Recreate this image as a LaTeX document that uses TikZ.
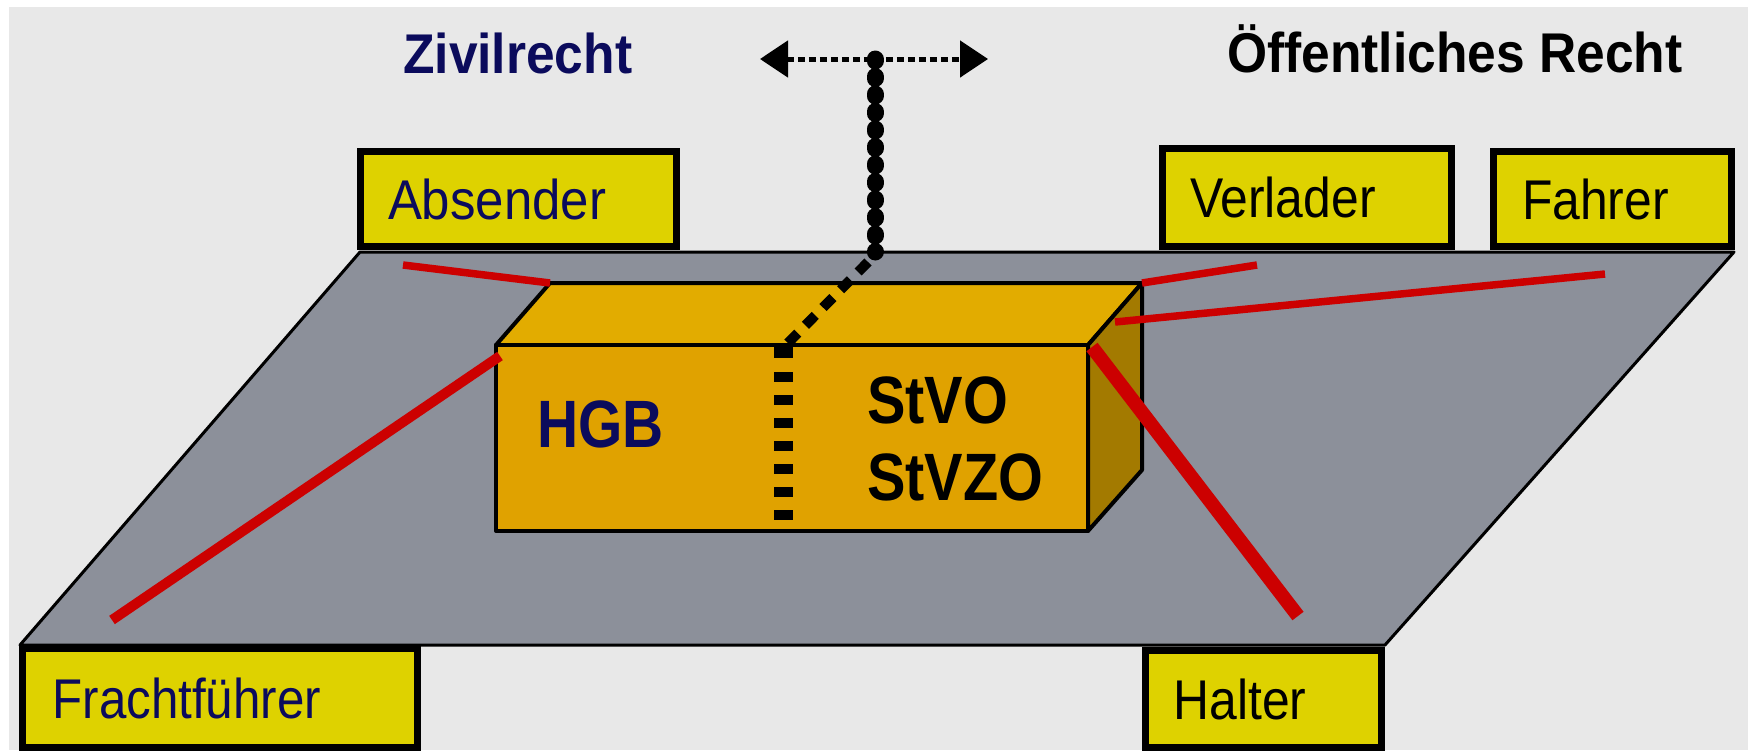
\documentclass[tikz,border=0pt]{standalone}
\usepackage{fontspec}
\setmainfont{Liberation Sans}
\usetikzlibrary{arrows.meta}
\definecolor{bggray}{HTML}{E8E8E8}
\definecolor{plategray}{HTML}{8C909A}
\definecolor{partyyellow}{HTML}{DED200}
\definecolor{navytext}{HTML}{0B0B5C}
\definecolor{linered}{HTML}{CC0000}
\definecolor{boxtop}{HTML}{E2AC00}
\definecolor{boxfront}{HTML}{E0A200}
\definecolor{boxside}{HTML}{A37A00}
\begin{document}
\begin{tikzpicture}[x=1pt,y=-1pt,
  titletxt/.style={font=\fontsize{56}{60}\selectfont\bfseries, inner sep=0pt, anchor=base west},
  lawtxt/.style={font=\fontsize{67}{72}\selectfont\bfseries, inner sep=0pt, anchor=base west},
  party/.style={draw=black, line width=7pt, fill=partyyellow, inner ysep=0pt,
    font=\fontsize{56}{60}\selectfont, align=left},
  redline/.style={draw=linered, line width=7.5pt},
  boxedge/.style={draw=black, line width=4pt, line join=round},
  sepdots/.style={line width=17pt, line cap=round, dash pattern=on 2pt off 15.5pt},
  sepslant/.style={line width=10pt, dash pattern=on 14pt off 11pt},
  sepfront/.style={line width=19pt, dash pattern=on 10pt off 13pt},
]
\useasboundingbox (0,0) rectangle (1748,750);
\clip (0,0) rectangle (1748,750);
\fill[white] (0,0) rectangle (1748,750);
\fill[bggray] (9,7) rectangle (1748,750);

% titles
\node[titletxt, text=navytext] (zivil) at (403,73) {\scalebox{0.92}[1]{Zivilrecht}};
\node[titletxt, text=black] (oeff) at (1227,72) {\scalebox{0.92}[1]{Öffentliches Recht}};

% plate
\filldraw[fill=plategray, draw=black, line width=3pt, line join=round]
  (360,252) -- (1734,252) -- (1385,645) -- (20,645) -- cycle;

% party boxes
\node[party, minimum width=316pt, minimum height=95pt, text width=261pt, inner xsep=27.5pt, text=navytext]
  (absender) at (518.5,199) {\scalebox{0.91}[1]{Absender}};
\node[party, minimum width=289pt, minimum height=98pt, text width=234pt, inner xsep=27.5pt, text=black]
  (verlader) at (1307,197.5) {\scalebox{0.89}[1]{Verlader}};
\node[party, minimum width=238pt, minimum height=95pt, text width=181pt, inner xsep=28.5pt, text=black]
  (fahrer) at (1612.5,199) {\scalebox{0.89}[1]{Fahrer}};
\node[party, minimum width=395pt, minimum height=99pt, text width=334pt, inner xsep=30.5pt, text=navytext]
  (fracht) at (219.5,698) {\scalebox{0.88}[1]{Frachtführer}};
\node[party, minimum width=236pt, minimum height=97pt, text width=180pt, inner xsep=28pt, text=black]
  (halter) at (1263.5,699) {\scalebox{0.89}[1]{Halter}};

% cuboid corners
\coordinate (ftl) at (496,345);
\coordinate (ftr) at (1088,345);
\coordinate (fbl) at (496,531);
\coordinate (fbr) at (1088,531);
\coordinate (btl) at (550,283);
\coordinate (btr) at (1142,283);
\coordinate (bbr) at (1142,470);
\filldraw[fill=boxtop, boxedge] (ftl) -- (btl) -- (btr) -- (ftr) -- cycle;
\filldraw[fill=boxside, boxedge] (ftr) -- (btr) -- (bbr) -- (fbr) -- cycle;
\filldraw[fill=boxfront, boxedge] (ftl) -- (ftr) -- (fbr) -- (fbl) -- cycle;

% texts on the cuboid
\node[lawtxt, text=navytext] (hgb) at (537,447) {\scalebox{0.85}[1]{HGB}};
\node[lawtxt, text=black] (stvo) at (867,423) {\scalebox{0.86}[1]{StVO}};
\node[lawtxt, text=black] (stvzo) at (867,500) {\scalebox{0.86}[1]{StVZO}};

% separator between civil and public law
\coordinate (arrL) at (760,59);
\coordinate (arrR) at (988,59);
\coordinate (sepTop) at (875,59);
\coordinate (sepPlate) at (875,252);
\coordinate (slantA) at (868,262);
\coordinate (slantB) at (785,346);
\coordinate (frontA) at (783,343);
\coordinate (frontB) at (783,358);
\coordinate (frontC) at (783,372);
\coordinate (frontD) at (783,521);
\draw[line width=5pt, dash pattern=on 7pt off 4pt,
  {Triangle[length=28pt,width=36pt]}-{Triangle[length=28pt,width=36pt]}] (arrL) -- (arrR);
\draw[sepdots] (sepTop) -- (sepPlate);
\draw[sepslant] (slantA) -- (slantB);
\draw[line width=19pt] (frontA) -- (frontB);
\draw[sepfront] (frontC) -- (frontD);

% red connectors
\coordinate (absEnd) at (403,265);
\coordinate (fraEnd) at (112,620);
\coordinate (verEnd) at (1257,265);
\coordinate (fahEnd) at (1605,274);
\coordinate (halEnd) at (1298,616);
\coordinate (fraBox) at (500,356);
\coordinate (fahBox) at (1115,322);
\coordinate (halBox) at (1092,347);
\draw[redline] (absEnd) -- (btl);
\draw[redline, line width=10pt] (fraEnd) -- (fraBox);
\draw[redline] (verEnd) -- (btr);
\draw[redline] (fahEnd) -- (fahBox);
\draw[redline, line width=14pt] (halEnd) -- (halBox);
\end{tikzpicture}
\end{document}
